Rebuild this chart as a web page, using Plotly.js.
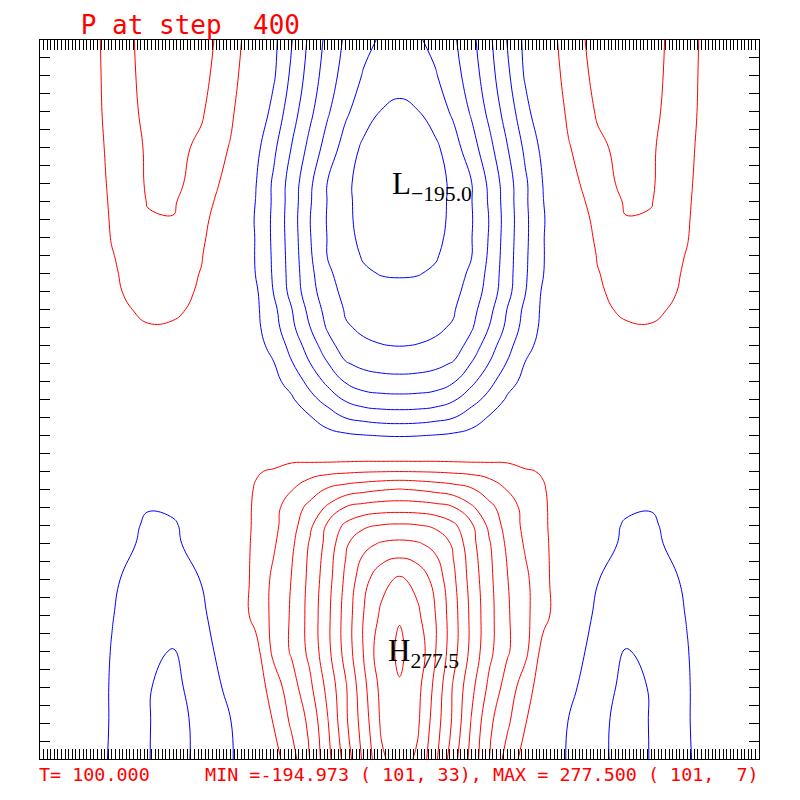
<!DOCTYPE html>
<html>
<head>
<meta charset="utf-8">
<script src="https://cdn.plot.ly/plotly-3.0.1.min.js"></script>
<style>html,body{margin:0;padding:0;background:#fff;}#chart{width:800px;height:800px;}</style>
</head>
<body>
<div id="chart"></div>
<script>
const xCols = [1, 11, 21, 31, 38, 46, 54, 61, 66, 71, 76, 81, 86, 91, 96, 101, 106, 111, 116, 121, 126, 131, 136, 141, 148, 156, 164, 171, 181, 191, 201];
const yRows = [1, 3, 5, 7, 9, 11, 13, 14, 15, 16, 17, 18, 19, 20, 21, 22, 23, 24, 25, 26, 27, 28, 29, 30, 31, 32, 33, 35, 37, 39, 41];

// P values, one array per row (bottom to top)
const p_y01 = [11, -4, -28, -49, -60, -43, -28, 0, 15, 40, 75, 117, 160, 205, 246, 262, 246, 205, 160, 117, 75, 40, 15, 0, -28, -43, -60, -49, -28, -4, 11];
const p_y03 = [11, -4, -27, -49, -58, -44, -26, 5, 26, 54, 80, 123, 170, 212, 254, 266, 254, 212, 170, 123, 80, 54, 26, 5, -26, -44, -58, -49, -27, -4, 11];
const p_y05 = [11, -4, -27, -49, -55, -41, -18, 10, 37, 64, 94, 132, 172, 218, 258, 274, 258, 218, 172, 132, 94, 64, 37, 10, -18, -41, -55, -49, -27, -4, 11];
const p_y07 = [10, -4, -26, -46, -51, -36, -10, 16, 56, 78, 106, 143, 184, 226, 268, 277.5, 268, 226, 184, 143, 106, 78, 56, 16, -10, -36, -51, -46, -26, -4, 10];
const p_y09 = [9, -4, -24, -41, -42, -31, 2, 33, 56, 78, 108, 144, 185, 225, 255, 274, 255, 225, 185, 144, 108, 78, 56, 33, 2, -31, -42, -41, -24, -4, 9];
const p_y11 = [8, -3, -22, -35, -35, -24, 4, 32, 55, 76, 106, 140, 180, 216, 242, 254, 242, 216, 180, 140, 106, 76, 55, 32, 4, -24, -35, -35, -22, -3, 8];
const p_y13 = [7, -3, -17, -29, -28, -18, 3, 31, 47, 70, 102, 133, 171, 193, 202, 205, 202, 193, 171, 133, 102, 70, 47, 31, 3, -18, -28, -29, -17, -3, 7];
const p_y14 = [6, -2, -14, -28, -27, -16, 2, 30, 44, 65, 94, 129, 155, 170, 176, 178, 176, 170, 155, 129, 94, 65, 44, 30, 2, -16, -27, -28, -14, -2, 6];
const p_y15 = [5, -2, -13, -24, -22, -17, 0, 30, 43, 61, 82, 104, 126, 134, 138, 139, 138, 134, 126, 104, 82, 61, 43, 30, 0, -17, -22, -24, -13, -2, 5];
const p_y16 = [4, -2, -11, -18, -19, -15, -2, 28, 39, 49, 62, 78, 87, 93, 98, 101, 98, 93, 87, 78, 62, 49, 39, 28, -2, -15, -19, -18, -11, -2, 4];
const p_y17 = [3, -1, -9, -14, -15, -12, -4, 22, 29, 40, 42, 44, 46, 48, 49, 49.5, 49, 48, 46, 44, 42, 40, 29, 22, -4, -12, -15, -14, -9, -1, 3];
const p_y18 = [2, -1, -6, -10, -10, -9, -7, -4, 2, 8, 8, 7, 7, 7, 6, 6, 6, 7, 7, 7, 8, 8, 2, -4, -7, -9, -10, -10, -6, -1, 2];
const p_y19 = [1, 0, -3, -5, -5, -6, -7, -8, -10, -12, -15, -18, -21, -24, -26, -27, -26, -24, -21, -18, -15, -12, -10, -8, -7, -6, -5, -5, -3, 0, 1];
const p_y20 = [0, 0, 0, 0, -1, -3, -6, -9, -13, -18, -23, -36, -51, -57, -61, -62, -61, -57, -51, -36, -23, -18, -13, -9, -6, -3, -1, 0, 0, 0, 0];
const p_y21 = [-1, 0, 3, 5, 4, -1, -6, -11, -16, -22, -41, -60, -78, -88, -91, -92, -91, -88, -78, -60, -41, -22, -16, -11, -6, -1, 4, 5, 3, 0, -1];
const p_y22 = [-2, 1, 5, 9, 9, 2, -7, -13, -19, -33, -58, -81, -102, -113, -117, -118, -117, -113, -102, -81, -58, -33, -19, -13, -7, 2, 9, 9, 5, 1, -2];
const p_y23 = [-3, 1, 8, 14, 14, 5, -8, -15, -24, -48, -74, -99, -123, -131, -134, -135, -134, -131, -123, -99, -74, -48, -24, -15, -8, 5, 14, 14, 8, 1, -3];
const p_y24 = [-4, 2, 11, 19, 19, 8, -8, -18, -31, -59, -86, -115, -138, -147, -149.5, -150.5, -149.5, -147, -138, -115, -86, -59, -31, -18, -8, 8, 19, 19, 11, 2, -4];
const p_y25 = [-5, 2, 14, 24, 23, 12, -5, -19, -40, -69, -99, -128, -148, -153, -155, -156, -155, -153, -148, -128, -99, -69, -40, -19, -5, 12, 23, 24, 14, 2, -5];
const p_y26 = [-6, 1, 21, 28, 28, 21, -4, -20, -44, -74, -107, -134, -152, -159, -162, -163, -162, -159, -152, -134, -107, -74, -44, -20, -4, 21, 28, 28, 21, 1, -6];
const p_y27 = [-7, 1, 23, 30, 29, 23.5, -4, -21, -51, -83, -115, -140, -157, -164, -168, -170, -168, -164, -157, -140, -115, -83, -51, -21, -4, 23.5, 29, 30, 23, 1, -7];
const p_y28 = [-8, 1, 23, 34, 34, 24, -3, -25.5, -53, -85, -118, -145, -162, -172, -176, -176.5, -176, -172, -162, -145, -118, -85, -53, -25.5, -3, 24, 34, 34, 23, 1, -8];
const p_y29 = [-9, 1, 24, 38, 39, 26, -2, -26, -54, -86, -121, -151, -166, -177, -181, -182, -181, -177, -166, -151, -121, -86, -54, -26, -2, 26, 39, 38, 24, 1, -9];
const p_y30 = [-10, 2, 26, 43, 44, 29, 1, -26, -55, -87, -123, -151, -169, -180, -185, -187, -185, -180, -169, -151, -123, -87, -55, -26, 1, 29, 44, 43, 26, 2, -10];
const p_y31 = [-11, 2, 27, 48, 49.3, 32, 4, -27, -55, -88, -124, -152, -170, -182, -188, -190, -188, -182, -170, -152, -124, -88, -55, -27, 4, 32, 49.3, 48, 27, 2, -11];
const p_y32 = [-11, 2, 28, 51, 52, 37, 8, -25.5, -54, -87, -122, -151, -170, -183, -191, -194, -191, -183, -170, -151, -122, -87, -54, -25.5, 8, 37, 52, 51, 28, 2, -11];
const p_y33 = [-12, 3, 29, 52.5, 54, 43, 13, -24, -54, -86, -120, -151, -170, -184, -192, -195, -192, -184, -170, -151, -120, -86, -54, -24, 13, 43, 54, 52.5, 29, 3, -12];
const p_y35 = [-12, 3, 31, 53, 56, 46, 23, -18, -45, -76, -107, -136, -160, -180, -186, -188, -186, -180, -160, -136, -107, -76, -45, -18, 23, 46, 56, 53, 31, 3, -12];
const p_y37 = [-13, 4, 33, 56, 59, 52, 30, -5, -33, -64, -94, -122, -146, -163, -176, -178, -176, -163, -146, -122, -94, -64, -33, -5, 30, 52, 59, 56, 33, 4, -13];
const p_y39 = [-13, 4, 34, 58, 63, 56, 35, 3, -22, -55, -85, -113, -135, -152, -164, -170, -164, -152, -135, -113, -85, -55, -22, 3, 35, 56, 63, 58, 34, 4, -13];
const p_y41 = [-14, 4, 35, 59, 62, 58, 39, 7, -19, -49, -80, -107, -129, -143, -153, -160, -153, -143, -129, -107, -80, -49, -19, 7, 39, 58, 62, 59, 35, 4, -14];

const titleText = "P at step  400";
const footerText = "T= 100.000     MIN =-194.973 ( 101, 33), MAX = 277.500 ( 101,  7)";
const lowMark = {x: 101, y: 33, letter: "L", value: "−195.0"};
const highMark = {x: 101, y: 7, letter: "H", value: "277.5"};

const zGrid = [p_y01, p_y03, p_y05, p_y07, p_y09, p_y11, p_y13, p_y14, p_y15, p_y16, p_y17, p_y18, p_y19, p_y20,
  p_y21, p_y22, p_y23, p_y24, p_y25, p_y26, p_y27, p_y28, p_y29, p_y30, p_y31, p_y32, p_y33, p_y35, p_y37, p_y39, p_y41];

const nb = s => s.replace(/ /g, "\u00a0");

const positive = {
  type: "contour", x: xCols, y: yRows, z: zGrid,
  autocontour: false,
  contours: {start: 25, end: 275, size: 25, coloring: "none", showlabels: false},
  line: {color: "#ff0000", width: 1, smoothing: 1.3},
  showscale: false, hoverinfo: "skip"
};
const negative = {
  type: "contour", x: xCols, y: yRows, z: zGrid,
  autocontour: false,
  contours: {start: -175, end: -25, size: 25, coloring: "none", showlabels: false},
  line: {color: "#0000ff", width: 1, smoothing: 1.3},
  showscale: false, hoverinfo: "skip"
};

const axisCommon = {
  showgrid: false, zeroline: false, showticklabels: false,
  showline: true, linecolor: "#000", linewidth: 1, mirror: "ticks",
  ticks: "inside", ticklen: 10, tickwidth: 1, tickcolor: "#000",
  tickmode: "linear", tick0: 1, dtick: 1, fixedrange: true
};

function extremumLabel(m, xs) {
  return {xref: "x", yref: "y", x: m.x, y: m.y, xshift: xs, yshift: -2, xanchor: "left", yanchor: "middle",
    text: m.letter + "<sub>" + m.value + "</sub>", showarrow: false,
    font: {family: "Liberation Serif", size: 31, color: "#000"}};
}

const layout = {
  width: 800, height: 800,
  margin: {l: 40, r: 41, t: 40, b: 41, pad: 0},
  paper_bgcolor: "#fff", plot_bgcolor: "#fff",
  showlegend: false,
  title: {
    text: nb(titleText),
    font: {family: "DejaVu Sans Mono", size: 26, color: "#ff0000"},
    xref: "container", yref: "container",
    x: 0.101, xanchor: "left", y: 0.969, yanchor: "middle"
  },
  xaxis: Object.assign({}, axisCommon, {range: [1, 201]}),
  yaxis: Object.assign({}, axisCommon, {range: [1, 41]}),
  annotations: [
    extremumLabel(lowMark, -10),
    extremumLabel(highMark, -14),
    {
      xref: "paper", yref: "paper", x: -0.004, y: -0.0218, xanchor: "left", yanchor: "middle",
      text: nb(footerText), showarrow: false,
      font: {family: "DejaVu Sans Mono", size: 18.4, color: "#ff0000"}
    }
  ]
};

Plotly.newPlot("chart", [positive, negative], layout, {staticPlot: true, displayModeBar: false});
</script>
</body>
</html>
